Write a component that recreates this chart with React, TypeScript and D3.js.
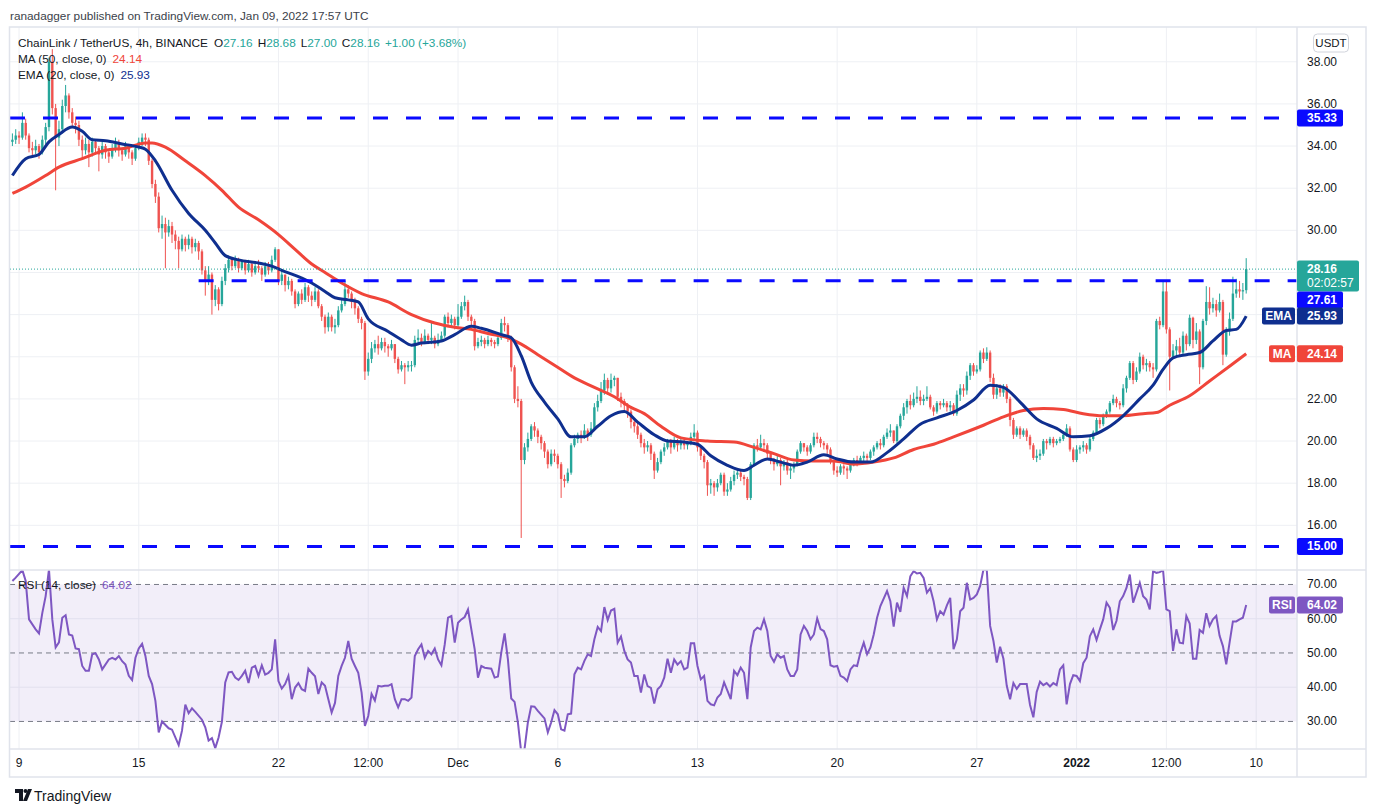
import React from "react";
import * as d3 from "d3";

// 4h candles, LINK/USDT Binance, Nov 8 16:00 .. Jan 9 16:00 (UTC)
const firstOpen = 34.2;
const closes = [
  34.3, 34.5, 34.4, 35.1, 34.5, 33.9, 33.8, 34.0, 33.7, 34.3, 34.9, 38.0,
  35.8, 34.4, 34.8, 35.9, 36.4, 35.6, 35.1, 35.0, 34.3, 33.8, 34.1, 33.7,
  34.2, 33.9, 33.6, 34.0, 33.7, 33.5, 33.9, 34.1, 33.8, 33.6, 34.0, 33.7,
  33.4, 33.9, 34.2, 34.4, 34.3, 33.3, 32.2, 31.6, 30.1, 30.3, 29.9, 30.2,
  29.8, 29.5, 29.1, 29.6, 29.3, 29.6, 29.2, 29.4, 29.0, 28.1, 27.6, 27.9,
  26.7, 27.2, 26.5, 27.6, 28.2, 28.6, 28.3, 28.6, 28.2, 28.5, 28.1, 28.4,
  28.0, 28.3, 28.2, 27.9, 28.3, 28.1, 28.6, 29.1, 27.6, 27.9, 27.4, 27.6,
  27.1, 26.5, 27.0, 26.7, 27.3, 26.9, 26.7, 27.1, 26.4, 25.9, 25.4, 25.9,
  25.4, 25.5, 26.2, 26.5, 27.2, 27.0, 26.6, 26.3, 25.8, 25.6, 23.3, 23.9,
  24.4, 24.6, 24.4, 24.7, 24.5, 24.4, 24.6, 23.9, 23.4, 23.6, 23.5, 23.6,
  23.6, 24.8, 24.9, 24.7, 25.0, 24.8, 24.9, 24.6, 24.8, 25.0, 25.9, 25.6,
  25.8, 25.5, 25.9, 26.4, 26.6, 25.9, 25.7, 24.5, 24.7, 24.8, 24.6, 24.8,
  24.7, 24.6, 24.9, 25.6, 25.5, 24.9, 23.5, 22.0, 21.9, 19.1, 19.7, 20.1,
  20.7, 20.5, 20.2, 19.9, 19.5, 18.9, 19.4, 19.3, 18.9, 18.2, 18.1, 18.5,
  19.8, 20.1, 20.3, 20.2, 20.5, 20.3, 20.6, 21.6, 21.9, 22.4, 22.9, 22.5,
  22.9, 23.0, 22.1, 21.9, 21.7, 21.4, 20.9, 20.7, 20.3, 19.9, 19.7, 19.8,
  19.4, 18.6, 19.0, 19.5, 19.7, 20.0, 19.7, 20.0, 19.8, 20.0, 19.8, 19.9,
  20.2, 20.4, 19.7, 19.3, 19.0, 17.9, 18.0, 17.8, 18.0, 18.4, 17.6, 17.7,
  18.1, 18.4, 18.5, 18.3, 18.2, 17.3, 18.9, 19.8, 19.7, 19.9, 19.8, 19.4,
  19.1, 18.9, 19.1, 18.8, 19.0, 18.6, 18.7, 18.9, 19.5, 19.9, 19.7, 19.5,
  19.8, 20.2, 20.1, 19.9, 19.8, 19.6, 19.0, 18.6, 18.5, 18.8, 18.7, 18.6,
  18.9, 19.1, 19.0, 19.2, 19.3, 19.2, 19.5, 19.7, 19.9, 19.8, 20.2, 20.4,
  20.5, 20.0, 20.7, 21.2, 21.6, 21.9, 21.7, 22.0, 22.1, 21.9, 22.0, 22.1,
  21.6, 21.4, 21.8, 21.7, 21.8, 21.6, 21.7, 21.3, 22.2, 22.5, 22.4, 23.1,
  23.6, 23.3, 23.4, 24.2, 23.9, 24.2, 23.0, 22.2, 22.5, 22.3, 22.6, 22.0,
  21.0, 20.3, 20.6, 20.3, 20.5, 20.2, 19.8, 19.2, 19.3, 19.4, 20.0, 19.9,
  20.1, 19.9, 20.0, 20.1, 20.3, 20.6, 19.6, 19.1, 19.6, 19.7, 19.8, 19.6,
  20.1, 20.4, 21.0, 20.8, 21.2, 21.4, 21.8, 22.0, 21.8, 21.7, 22.5, 23.0,
  23.7, 22.9, 23.3, 24.0, 23.6, 23.7, 23.5, 23.4, 25.7, 25.5, 27.1, 25.3,
  24.0, 24.3, 24.5, 24.2, 25.0, 24.6, 25.85, 24.8, 25.2, 23.5, 25.7, 26.6,
  26.3, 26.5, 26.2, 26.6, 24.1, 25.2, 25.8, 27.0, 27.2, 27.1, 27.16, 28.16,
];
const highs = [
  34.6, 34.8, 34.7, 35.6, 35.3, 34.6, 34.2, 34.3, 34.1, 34.5, 35.1, 38.2,
  38.6, 36.0, 35.2, 36.2, 36.9, 36.5, 35.8, 35.4, 35.2, 34.5, 34.4, 34.3,
  34.4, 34.3, 34.0, 34.2, 34.1, 33.8, 34.1, 34.4, 34.3, 33.9, 34.2, 34.1,
  33.8, 34.0, 34.4, 34.6, 34.6, 34.4, 33.4, 32.4, 31.8, 30.7, 30.6, 30.5,
  30.4, 30.0, 29.7, 29.8, 29.7, 29.8, 29.7, 29.6, 29.5, 29.1, 28.3, 28.3,
  28.0, 27.4, 27.3, 27.8, 28.4, 28.8, 28.7, 28.8, 28.7, 28.6, 28.6, 28.6,
  28.5, 28.5, 28.6, 28.3, 28.5, 28.5, 28.8, 29.2, 29.1, 28.1, 27.9, 27.8,
  27.7, 27.2, 27.1, 27.2, 27.5, 27.4, 27.1, 27.3, 27.2, 26.5, 26.0, 26.1,
  26.0, 25.8, 26.4, 26.7, 27.6, 27.4, 27.1, 26.8, 26.4, 25.9, 25.7, 24.2,
  24.7, 24.8, 25.0, 24.9, 24.9, 24.6, 24.8, 24.6, 24.0, 23.8, 23.7, 23.8,
  23.8, 25.0, 25.3, 25.1, 25.3, 25.1, 25.7, 25.0, 25.1, 25.2, 26.0, 26.1,
  26.0, 25.9, 26.5, 26.6, 26.9, 26.7, 26.0, 25.8, 24.9, 25.0, 24.9, 25.0,
  24.9, 24.8, 25.0, 25.8, 25.9, 25.6, 25.0, 23.6, 22.6, 22.0, 19.9, 20.4,
  20.8, 20.9, 20.6, 20.3, 20.0, 19.6, 19.6, 19.6, 19.4, 19.0, 18.4, 18.7,
  19.9, 20.3, 20.4, 20.5, 20.8, 20.6, 20.9, 21.8, 22.2, 22.8, 23.2, 23.0,
  23.2, 23.1, 23.0, 22.3, 22.0, 21.8, 21.5, 21.0, 20.9, 20.4, 20.1, 20.0,
  19.9, 19.5, 19.2, 19.6, 19.9, 20.1, 20.1, 20.2, 20.1, 20.2, 20.1, 20.0,
  20.4, 20.8, 20.5, 19.8, 19.4, 19.1, 18.2, 18.1, 18.2, 18.5, 18.5, 18.0,
  18.3, 18.6, 18.7, 18.6, 18.4, 18.3, 19.0, 19.9, 20.1, 20.3, 20.1, 19.9,
  19.5, 19.2, 19.3, 19.2, 19.1, 19.1, 18.9, 19.0, 19.6, 20.0, 19.9, 19.8,
  19.9, 20.4, 20.4, 20.2, 20.0, 19.9, 19.7, 19.1, 18.8, 18.9, 18.9, 18.8,
  19.0, 19.2, 19.3, 19.3, 19.5, 19.4, 19.6, 19.8, 20.0, 20.1, 20.3, 20.6,
  20.8, 20.5, 20.8, 21.3, 21.8, 22.0, 22.2, 22.3, 22.6, 22.4, 22.2, 22.6,
  22.2, 21.7, 21.9, 21.9, 22.0, 21.9, 21.9, 21.8, 22.4, 22.7, 22.7, 23.3,
  23.7, 23.7, 23.6, 24.3, 24.4, 24.45, 24.3, 23.2, 22.7, 22.7, 22.7, 22.7,
  22.1, 21.1, 20.7, 20.7, 20.6, 20.6, 20.3, 19.9, 19.6, 19.6, 20.1, 20.1,
  20.2, 20.2, 20.1, 20.2, 20.4, 20.8, 20.7, 19.7, 19.8, 19.8, 20.0, 19.9,
  20.2, 20.5, 21.1, 21.1, 21.3, 21.5, 21.9, 22.2, 22.1, 21.9, 22.7, 23.1,
  23.8, 23.8, 23.5, 24.2, 24.1, 23.9, 23.8, 23.7, 25.8, 25.9, 27.6, 27.6,
  25.4, 24.6, 24.8, 24.9, 25.2, 25.1, 26.0, 25.9, 25.6, 25.3, 25.8, 27.35,
  27.3, 26.8, 26.7, 27.0, 26.7, 25.4, 26.1, 27.8, 27.7, 27.6, 27.5, 28.68,
];
const lows = [
  34.0, 34.1, 34.1, 34.3, 34.3, 33.7, 33.5, 33.6, 33.4, 33.6, 34.1, 34.7,
  35.5, 31.9, 34.0, 34.6, 35.6, 35.3, 34.9, 34.6, 34.0, 33.4, 33.6, 33.0,
  33.5, 33.6, 32.8, 33.4, 33.4, 33.2, 33.4, 33.7, 33.5, 33.3, 33.5, 33.4,
  33.1, 33.3, 33.8, 34.0, 34.0, 33.1, 32.0, 31.3, 29.9, 29.6, 28.2, 29.7,
  29.4, 29.1, 28.2, 29.0, 29.0, 29.1, 28.9, 29.0, 28.6, 27.9, 26.9, 27.4,
  26.0, 26.4, 26.2, 26.4, 27.4, 28.0, 28.1, 28.2, 28.0, 28.1, 27.9, 28.0,
  27.8, 27.9, 28.0, 27.6, 27.8, 27.9, 28.0, 28.5, 27.4, 27.4, 27.1, 27.2,
  26.9, 26.3, 26.4, 26.5, 26.6, 26.6, 26.4, 26.6, 26.3, 25.7, 25.1, 25.2,
  25.2, 25.1, 25.4, 26.1, 26.4, 26.8, 26.3, 26.0, 25.6, 25.3, 22.9, 23.1,
  23.7, 24.2, 24.1, 24.3, 24.2, 24.0, 24.3, 23.7, 23.2, 23.3, 22.7, 23.3,
  23.3, 23.5, 24.6, 24.5, 24.6, 24.6, 24.6, 24.4, 24.5, 24.7, 24.9, 25.4,
  25.4, 25.3, 25.4, 25.8, 26.2, 25.7, 25.4, 24.3, 24.4, 24.5, 24.4, 24.5,
  24.5, 24.4, 24.5, 24.8, 25.2, 24.7, 23.3, 21.8, 21.6, 15.4, 18.9, 19.5,
  20.0, 20.2, 19.9, 19.6, 19.2, 18.7, 18.8, 19.0, 18.7, 17.3, 17.8, 18.0,
  18.4, 19.7, 19.9, 19.9, 20.1, 20.0, 20.2, 20.5, 21.4, 21.8, 22.2, 22.2,
  22.3, 22.6, 21.9, 21.6, 21.4, 21.1, 20.6, 20.4, 20.1, 19.7, 19.4, 19.5,
  19.1, 18.2, 18.5, 18.9, 19.3, 19.6, 19.4, 19.6, 19.5, 19.6, 19.6, 19.6,
  19.8, 20.1, 19.5, 19.1, 18.7, 17.4, 17.5, 17.4, 17.6, 17.9, 17.4, 17.4,
  17.6, 17.9, 18.2, 18.1, 17.9, 17.2, 17.2, 18.8, 19.5, 19.6, 19.5, 19.2,
  18.9, 18.6, 18.8, 17.9, 18.6, 18.4, 18.2, 18.5, 18.8, 19.4, 19.5, 19.3,
  19.4, 19.7, 19.9, 19.7, 19.6, 19.4, 18.9, 18.4, 18.3, 18.4, 18.4, 18.2,
  18.5, 18.8, 18.8, 18.9, 19.0, 19.0, 19.1, 19.3, 19.6, 19.6, 19.7, 20.1,
  20.2, 19.9, 19.9, 20.6, 21.0, 21.3, 21.5, 21.6, 21.8, 21.7, 21.7, 21.9,
  21.5, 21.2, 21.3, 21.5, 21.6, 21.4, 21.4, 21.2, 21.2, 21.9, 22.1, 22.2,
  22.9, 23.1, 23.2, 23.3, 23.7, 23.8, 22.8, 22.0, 22.0, 22.1, 22.1, 21.8,
  20.7, 20.1, 20.2, 20.1, 20.2, 20.0, 19.6, 19.1, 19.0, 19.1, 19.3, 19.6,
  19.8, 19.7, 19.8, 19.9, 20.0, 20.2, 19.5, 19.0, 19.0, 19.4, 19.5, 19.4,
  19.5, 20.0, 20.3, 20.6, 20.7, 21.1, 21.3, 21.7, 21.6, 21.5, 21.6, 22.3,
  22.9, 22.7, 22.8, 23.2, 23.4, 23.3, 23.3, 23.0, 23.3, 25.3, 25.4, 25.1,
  22.4, 23.9, 24.0, 24.0, 24.1, 24.3, 24.5, 24.4, 24.6, 22.7, 23.4, 25.5,
  26.0, 26.1, 25.9, 26.1, 23.6, 24.0, 25.0, 25.7, 26.8, 26.8, 26.7, 27.0,
];

// [candle index, value] readings of the indicator lines
const maPoints = [
  [0, 31.75], [4, 32.05], [10, 32.6], [14, 33.0], [21, 33.4], [28, 33.8], [34, 33.9],
  [40, 34.15], [42, 34.15], [46, 33.95], [52, 33.3], [58, 32.6], [63, 31.9], [68, 31.1],
  [74, 30.5], [80, 29.8], [85, 29.1], [90, 28.4], [94, 28.0], [99, 27.5], [105, 27.0],
  [113, 26.6], [120, 26.0], [127, 25.6], [133, 25.4], [138, 25.3], [143, 25.1], [149, 24.9],
  [153, 24.6], [158, 24.1], [163, 23.6], [169, 23.0], [175, 22.55], [181, 22.1], [186, 21.6],
  [190, 21.3], [195, 20.7], [201, 20.15], [209, 20.0], [217, 19.95], [223, 19.7], [229, 19.4],
  [235, 19.1], [241, 19.05], [247, 19.05], [253, 18.9], [259, 19.0], [265, 19.2], [271, 19.6],
  [277, 19.85], [283, 20.2], [288, 20.5], [292, 20.75], [298, 21.15], [304, 21.45], [310, 21.55],
  [316, 21.5], [322, 21.3], [328, 21.2], [334, 21.2], [340, 21.3], [344, 21.35], [348, 21.7],
  [354, 22.15], [360, 22.85], [366, 23.55], [371, 24.14],
];
const emaPoints = [
  [0, 32.6], [4, 33.4], [8, 33.6], [11, 34.2], [14, 34.55], [18, 34.9], [21, 34.7],
  [24, 34.3], [28, 34.25], [33, 34.1], [38, 33.95], [40, 33.85], [43, 33.3], [48, 31.9],
  [53, 30.8], [58, 30.0], [61, 29.4], [64, 28.8], [68, 28.6], [74, 28.45], [78, 28.3],
  [81, 28.1], [86, 27.8], [90, 27.5], [94, 27.1], [97, 26.8], [101, 26.7], [104, 26.6],
  [107, 25.8], [113, 25.2], [117, 24.8], [120, 24.55], [123, 24.65], [129, 24.75], [133, 25.05],
  [138, 25.45], [141, 25.35], [147, 25.05], [150, 24.9], [153, 24.05], [156, 22.8], [160, 21.85],
  [164, 21.05], [168, 20.2], [172, 20.2], [176, 20.7], [180, 21.2], [184, 21.4], [188, 20.9],
  [193, 20.3], [197, 20.0], [202, 19.95], [206, 19.85], [210, 19.3], [215, 18.85], [220, 18.6],
  [223, 18.85], [227, 19.15], [231, 19.0], [235, 18.85], [239, 19.0], [244, 19.35], [248, 19.15],
  [253, 19.0], [258, 19.0], [263, 19.45], [268, 20.1], [273, 20.8], [278, 21.1], [284, 21.45],
  [289, 21.95], [294, 22.65], [298, 22.55], [303, 21.85], [308, 21.05], [314, 20.6], [319, 20.2],
  [324, 20.25], [329, 20.6], [334, 21.2], [339, 22.0], [343, 22.65], [346, 23.4], [349, 23.95],
  [353, 24.1], [357, 24.2], [361, 24.75], [365, 25.25], [368, 25.3], [371, 25.93],
];
const rsiPoints = [
  [0, 71], [1, 72], [3, 74.2], [4, 71], [5, 59.8], [7, 56.9], [8, 55.7], [9, 61.7], [10, 66.6],
  [11, 74.4], [12, 59.8], [13, 51.6], [14, 53.1], [15, 60.3], [16, 61], [17, 55.4], [18, 55.1],
  [19, 51.3], [20, 51.1], [21, 46.2], [22, 44.8], [23, 44.8], [24, 49.6], [25, 49.9], [26, 48.1],
  [27, 45.2], [29, 48.1], [30, 48.6], [31, 48.1], [32, 49.1], [33, 47.6], [34, 46.6], [35, 43.3],
  [36, 42.1], [37, 48.6], [38, 51.3], [39, 52.7], [40, 49.1], [41, 43.3], [42, 40.9], [43, 36],
  [44, 26.8], [45, 30], [47, 28], [48, 27.6], [50, 23.1], [51, 27.3], [52, 34.9], [53, 32.4],
  [54, 33.8], [55, 32.8], [57, 30.5], [58, 28.3], [59, 24.4], [60, 25.1], [61, 22.2], [62, 25.3],
  [63, 29.9], [64, 41.4], [65, 44.3], [66, 44.5], [67, 42.8], [68, 42.1], [69, 43.3], [70, 44.8],
  [71, 41.2], [72, 45.7], [73, 46.2], [74, 43.3], [75, 46.4], [76, 43.7], [77, 44.2], [78, 45.2],
  [79, 54], [80, 41.8], [81, 39.6], [82, 40.9], [83, 43.3], [84, 36.5], [85, 39.9], [86, 41.2],
  [87, 39.4], [88, 38.9], [89, 45.4], [90, 44.2], [91, 43.2], [92, 38], [93, 41.4], [94, 40.4],
  [95, 36.5], [96, 32.6], [97, 35.4], [98, 43.3], [99, 46.2], [100, 48.6], [101, 53.5], [102, 48.3],
  [103, 46.2], [104, 44.2], [105, 38.4], [106, 28.7], [107, 31.6], [108, 38], [109, 36.1], [110, 40.4],
  [111, 40.2], [112, 40.4], [113, 40.4], [114, 40.9], [115, 36.5], [116, 34.1], [117, 36.5], [118, 36.5],
  [119, 36], [120, 37], [121, 49.1], [122, 51.1], [123, 52.5], [124, 48.6], [125, 50.6], [126, 49.6],
  [127, 51.3], [128, 48.1], [129, 46.4], [130, 52.5], [131, 60.3], [132, 60.8], [133, 53], [134, 58.8],
  [135, 59.8], [136, 60.5], [137, 62.7], [138, 56.9], [139, 51.1], [140, 42.8], [141, 46.2], [142, 45.7],
  [144, 45.4], [145, 42.8], [146, 43.1], [147, 50.1], [148, 55.7], [149, 48.1], [150, 36.7], [151, 35.7],
  [152, 29.7], [153, 21], [154, 22], [155, 29.7], [156, 34.4], [157, 34.3], [158, 33.1], [160, 30.9],
  [161, 26.8], [162, 29.7], [163, 33.3], [164, 32.1], [165, 27.7], [166, 27.3], [167, 32.1], [168, 32.3],
  [169, 43.8], [170, 45.7], [171, 45.2], [172, 47.7], [173, 49.6], [174, 49.1], [175, 54], [176, 57.6],
  [177, 56.4], [178, 63.4], [179, 59.6], [180, 62.4], [181, 62.9], [182, 53], [183, 54.8], [184, 50.6],
  [185, 48.1], [186, 47.2], [187, 43.3], [188, 43.3], [189, 38.4], [190, 43.7], [191, 40.3], [192, 39.8],
  [193, 35.2], [194, 39.4], [195, 40.4], [196, 42.8], [197, 48.3], [198, 44.2], [199, 48.1], [200, 46.6],
  [201, 47.6], [202, 45.2], [203, 45.7], [204, 52.8], [205, 52.8], [206, 46.2], [207, 42.3], [208, 43.3],
  [209, 36], [210, 35], [211, 34.7], [212, 37], [213, 38], [214, 41.4], [215, 39], [216, 36.5],
  [217, 44.8], [218, 43.5], [219, 45.7], [220, 44.2], [221, 36.5], [222, 51.6], [223, 56.4], [224, 57.4],
  [225, 56.9], [226, 59.8], [227, 56.4], [228, 49.1], [229, 47.4], [230, 49.6], [231, 48.6], [232, 49.1],
  [233, 45.2], [234, 43.3], [235, 43.3], [236, 45.2], [237, 55.4], [238, 57.9], [239, 56.4], [240, 54],
  [241, 55.4], [242, 60.1], [243, 57], [244, 56.4], [245, 54], [246, 46.4], [247, 46], [248, 46.2],
  [249, 43.3], [250, 42.8], [251, 41.8], [252, 45.2], [253, 46.4], [254, 46.2], [255, 50.1], [256, 53],
  [257, 49.6], [258, 51.6], [259, 55.4], [260, 60.3], [261, 63.7], [263, 68.1], [264, 65.1], [265, 57.7],
  [266, 64.7], [267, 62], [268, 69], [269, 66.6], [270, 72.4], [271, 73.9], [272, 73.2], [273, 73.4],
  [274, 71.9], [275, 67.6], [276, 68.9], [277, 65.1], [278, 59.8], [279, 62.2], [280, 61.2], [281, 63.9],
  [282, 66.1], [283, 51.1], [284, 54], [285, 62.2], [286, 63.2], [287, 70.5], [288, 65.6], [289, 66.1],
  [290, 67.1], [291, 69.6], [292, 74.4], [293, 74.2], [294, 57.9], [295, 53.5], [296, 47.2], [297, 51.8],
  [298, 48.3], [299, 40.4], [300, 36.5], [301, 41.2], [302, 39.5], [303, 40.9], [305, 40.9], [306, 34.8],
  [307, 31.2], [308, 38.6], [309, 41.6], [310, 40.6], [311, 41.2], [312, 40.2], [313, 41.2], [314, 40.6],
  [315, 45.2], [316, 46.4], [317, 35], [318, 40.9], [319, 43.5], [320, 43.3], [321, 41.8], [322, 47],
  [323, 48.6], [324, 54.9], [325, 56.9], [326, 53.8], [327, 56.9], [328, 59.8], [329, 64.7], [330, 63.2],
  [331, 56.7], [332, 59.4], [333, 65.1], [334, 66.6], [335, 69], [336, 72.9], [337, 64.7], [338, 67.6],
  [339, 70.5], [340, 66.6], [341, 65.6], [342, 62.7], [343, 73.9], [344, 73.4], [345, 73.6], [346, 74.2],
  [347, 62.7], [348, 62.2], [349, 50.6], [350, 56.9], [351, 53], [352, 52.8], [353, 60.8], [354, 58.6],
  [355, 48.3], [356, 48.3], [357, 56.7], [358, 55.9], [359, 61.6], [360, 57.9], [361, 59.8], [362, 60.8],
  [363, 55], [364, 52], [365, 46.7], [366, 53], [367, 59.2], [368, 59.2], [369, 59.8], [370, 60.3],
  [371, 64.02],
];

const priceTicks = [16, 18, 20, 22, 24, 26, 28, 30, 32, 34, 36, 38];
const rsiTicks = [30, 40, 50, 60, 70];
const rsiDashed = [30, 50, 70];
const timeTicks = [
  "2021-11-09T00:00Z", "2021-11-15T00:00Z", "2021-11-22T00:00Z", "2021-11-26T12:00Z",
  "2021-12-01T00:00Z", "2021-12-06T00:00Z", "2021-12-13T00:00Z", "2021-12-20T00:00Z",
  "2021-12-27T00:00Z", "2022-01-01T00:00Z", "2022-01-05T12:00Z", "2022-01-10T00:00Z",
];
const timeLabels = ["9", "15", "22", "12:00", "Dec", "6", "13", "20", "27", "2022", "12:00", "10"];
const levels = [35.33, 27.61, 15.0];
const levelFrom = [0, 56, 0];
const maLast = 24.14;
const emaLast = 25.93;
const rsiLast = 64.02;

const START = Date.UTC(2021, 10, 8, 16);
const STEP = 4 * 3600 * 1000;

const UP = "#26a69a";
const DOWN = "#ef5350";
const MA_C = "#f0453a";
const EMA_C = "#0f2f8f";
const BLUE = "#0a0aff";
const RSI_C = "#7e57c2";
const TXT = "#131722";
const GRID = "#eef0f4";

const FONT = "'Liberation Sans', Arial, sans-serif";

const L = 10, PR = 1297, FR = 1366, T = 27, SPLIT = 570, RB = 749, FB = 777;

export default function App() {
  const tOf = (i: number) => START + i * STEP;
  const x = d3.scaleUtc().domain([START, tOf(371)]).range([12.4, 1246.2]);
  const y = d3.scaleLinear().domain([13.88, 39.65]).range([SPLIT, T]);
  const yr = d3.scaleLinear().domain([21.95, 74.23]).range([RB, SPLIT]);

  const candles = closes.map((c, i) => {
    const o = i === 0 ? firstOpen : closes[i - 1];
    return { i, o, c, h: Math.max(highs[i], o, c), l: Math.min(lows[i], o, c) };
  });

  const lineP = d3.line<number[]>()
    .x((d) => x(tOf(d[0])))
    .y((d) => y(d[1]))
    .curve(d3.curveMonotoneX);
  const lineR = d3.line<number[]>()
    .x((d) => x(tOf(d[0])))
    .y((d) => yr(d[1]));

  const tickX = timeTicks.map((t) => x(new Date(t)));
  const last = candles[candles.length - 1];

  // right-axis tags (TradingView stacks them so they do not overlap)
  const yLast = y(last.c);
  const yTop = y(levels[0]);
  const y2761 = yLast - 8.5 + 31 + 8.5;
  const yEma = y(emaLast);
  const yMa = y(maLast);
  const yLow = y(levels[2]);
  const tagCenters = [yTop, yLast, yLast + 14, y2761, yEma, yMa, yLow];
  const shownTicks = priceTicks.filter((p) => tagCenters.every((c) => Math.abs(y(p) - c) > 11));

  const box = (yc: number, fill: string, text: string, h = 17, w = 46) => (
    <g>
      <rect x={PR} y={yc - h / 2} width={w} height={h} rx={2} fill={fill} />
      <text x={PR + 10} y={yc + 4} fill="#fff" fontSize={12} fontWeight="bold">{text}</text>
    </g>
  );
  const sideTag = (yc: number, fill: string, text: string, w: number) => (
    <g>
      <rect x={PR - 2 - w} y={yc - 8.5} width={w} height={17} rx={2} fill={fill} />
      <text x={PR - 2 - w / 2} y={yc + 4} fill="#fff" fontSize={12} fontWeight="bold" textAnchor="middle">{text}</text>
    </g>
  );

  return (
    <svg width={1375} height={812} style={{ position: "absolute", left: 0, top: 0 }} fontFamily={FONT}>
      <defs>
        <clipPath id="pp"><rect x={L} y={T} width={PR - L} height={SPLIT - T} /></clipPath>
        <clipPath id="rp"><rect x={L} y={SPLIT} width={PR - L} height={RB - SPLIT} /></clipPath>
      </defs>
      <rect width={1375} height={812} fill="#fff" />
      <text x={10} y={19.5} fontSize={11.8} fill="#3b3f4a">
        ranadagger published on TradingView.com, Jan 09, 2022 17:57 UTC
      </text>

      {/* grid */}
      {tickX.map((tx, k) => (
        <line key={"vg" + k} x1={tx} x2={tx} y1={T} y2={RB} stroke={GRID} />
      ))}
      {priceTicks.map((p) => (
        <line key={"hg" + p} x1={L} x2={PR} y1={y(p)} y2={y(p)} stroke={GRID} />
      ))}
      {[40, 60].map((v) => (
        <line key={"rg" + v} x1={L} x2={PR} y1={yr(v)} y2={yr(v)} stroke={GRID} />
      ))}

      {/* RSI band */}
      <rect x={L} y={yr(70)} width={PR - L} height={yr(30) - yr(70)} fill={RSI_C} opacity={0.1} />
      {rsiDashed.map((v) => (
        <line key={"rd" + v} x1={L} x2={PR} y1={yr(v)} y2={yr(v)} stroke="#787b86" strokeDasharray="5 4" />
      ))}

      {/* candles */}
      <g clipPath="url(#pp)">
        {candles.map((d) => {
          const cx = x(tOf(d.i));
          const col = d.c >= d.o ? UP : DOWN;
          const yt = y(Math.max(d.o, d.c));
          const yb = y(Math.min(d.o, d.c));
          return (
            <g key={d.i}>
              <line x1={cx} x2={cx} y1={y(d.h)} y2={y(d.l)} stroke={col} strokeWidth={1} />
              <rect x={cx - 1.2} y={yt} width={2.4} height={Math.max(1, yb - yt)} fill={col} />
            </g>
          );
        })}
        <path d={lineP(maPoints) || ""} fill="none" stroke={MA_C} strokeWidth={3} />
        <path d={lineP(emaPoints) || ""} fill="none" stroke={EMA_C} strokeWidth={3} />
        {levels.map((lv, k) => (
          <line key={"lv" + k} x1={k === 1 ? x(tOf(levelFrom[k])) : L} x2={PR} y1={y(lv)} y2={y(lv)}
            stroke={BLUE} strokeWidth={3} strokeDasharray="15 18" />
        ))}
        <line x1={L} x2={PR} y1={yLast} y2={yLast} stroke={UP} strokeDasharray="1 2" />
      </g>

      {/* RSI line */}
      <g clipPath="url(#rp)">
        <path d={lineR(rsiPoints) || ""} fill="none" stroke={RSI_C} strokeWidth={2} />
      </g>

      {/* legends */}
      <text x={18} y={46.5} fontSize={11.8} fill={TXT}>
        ChainLink / TetherUS, 4h, BINANCE
        <tspan dx={6}>O</tspan><tspan fill={UP}>{last.o.toFixed(2)}</tspan>
        <tspan dx={5}>H</tspan><tspan fill={UP}>{last.h.toFixed(2)}</tspan>
        <tspan dx={5}>L</tspan><tspan fill={UP}>{last.l.toFixed(2)}</tspan>
        <tspan dx={5}>C</tspan><tspan fill={UP}>{last.c.toFixed(2)}</tspan>
        <tspan dx={5} fill={UP}>+1.00 (+3.68%)</tspan>
      </text>
      <text x={18} y={63} fontSize={11.8} fill={TXT}>
        MA (50, close, 0)<tspan dx={6} fill={MA_C}>{maLast.toFixed(2)}</tspan>
      </text>
      <text x={18} y={79} fontSize={11.8} fill={TXT}>
        EMA (20, close, 0)<tspan dx={6} fill={EMA_C}>{emaLast.toFixed(2)}</tspan>
      </text>
      <text x={18} y={588.5} fontSize={11.8} fill={TXT}>
        RSI (14, close)<tspan dx={6} fill={RSI_C}>{rsiLast.toFixed(2)}</tspan>
      </text>

      {/* frame and separators */}
      <rect x={9.5} y={T} width={FR - 9.5} height={FB - T} fill="none" stroke="#e0e3eb" strokeWidth={1.5} />
      <line x1={9.5} x2={FR} y1={SPLIT} y2={SPLIT} stroke="#e0e3eb" strokeWidth={1.5} />
      <line x1={9.5} x2={FR} y1={RB} y2={RB} stroke="#e0e3eb" strokeWidth={1.5} />
      <line x1={PR} x2={PR} y1={T} y2={FB} stroke="#e0e3eb" strokeWidth={1.5} />

      {/* price axis */}
      {shownTicks.map((p) => (
        <text key={"pt" + p} x={1307} y={y(p) + 4} fontSize={12} fill={TXT}>{p.toFixed(2)}</text>
      ))}
      {rsiTicks.map((v) => (
        <text key={"rt" + v} x={1307} y={yr(v) + 4} fontSize={12} fill={TXT}>{v.toFixed(2)}</text>
      ))}
      <rect x={1313.5} y={34} width={35} height={18} rx={4} fill="#fff" stroke="#d1d4dc" />
      <text x={1331} y={47} fontSize={11.5} fill={TXT} textAnchor="middle">USDT</text>

      {box(yTop, BLUE, levels[0].toFixed(2))}
      <rect x={PR} y={yLast - 8.5} width={62} height={31} rx={2} fill={UP} />
      <text x={PR + 10} y={yLast + 4} fill="#fff" fontSize={12} fontWeight="bold">{last.c.toFixed(2)}</text>
      <text x={PR + 10} y={yLast + 18} fill="#fff" fontSize={12}>02:02:57</text>
      {box(y2761, BLUE, levels[1].toFixed(2))}
      {sideTag(yEma, EMA_C, "EMA", 33)}
      {box(yEma, EMA_C, emaLast.toFixed(2))}
      {sideTag(yMa, MA_C, "MA", 26)}
      {box(yMa, MA_C, maLast.toFixed(2))}
      {box(yLow, BLUE, levels[2].toFixed(2))}
      {sideTag(yr(rsiLast), RSI_C, "RSI", 26)}
      {box(yr(rsiLast), RSI_C, rsiLast.toFixed(2))}

      {/* time axis */}
      {tickX.map((tx, k) => (
        <text key={"tl" + k} x={tx} y={767} fontSize={12} fill={TXT} textAnchor="middle"
          fontWeight={timeLabels[k] === "2022" ? "bold" : "normal"}>{timeLabels[k]}</text>
      ))}

      {/* TradingView mark */}
      <path d="M15 789 h8 v12 h-4 v-8 h-4 z" fill={TXT} />
      <circle cx={25.5} cy={791} r={2} fill={TXT} />
      <path d="M28 789 h4 l-5 12 h-4 z" fill={TXT} />
      <text x={34} y={800.5} fontSize={14} fill={TXT}>TradingView</text>
    </svg>
  );
}
